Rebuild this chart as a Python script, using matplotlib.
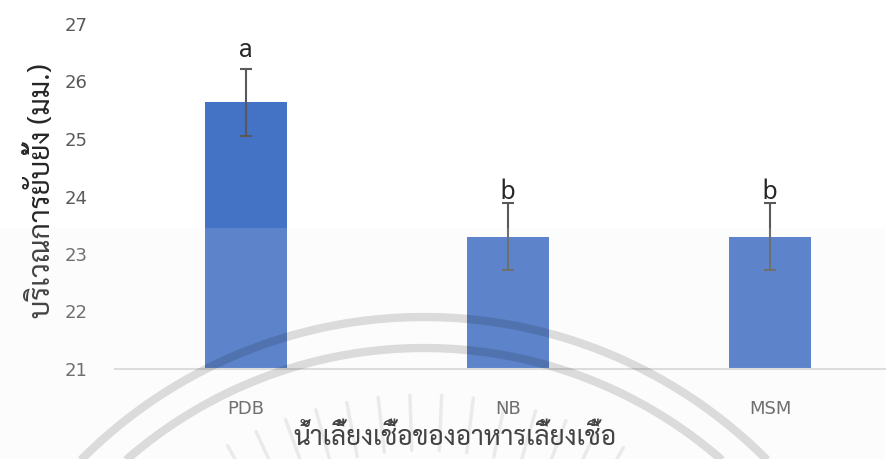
import matplotlib
matplotlib.use("Agg")
import matplotlib.pyplot as plt
from matplotlib import font_manager
import numpy as np

# ── data ──────────────────────────────────────────────────────────────────────
media = ["PDB", "NB", "MSM"]
zone_mm = [25.64, 23.30, 23.30]
zone_err = [0.58, 0.58, 0.58]
groups = ["a", "b", "b"]
group_offset_pt = [8.5, 3, 3]

y_label = "บริเวณการยับยั้ง (มม.)"
x_label = "น้ำเลี้ยงเชื้อของอาหารเลี้ยงเชื้อ"

# ── fonts ─────────────────────────────────────────────────────────────────────
installed = {f.name for f in font_manager.fontManager.ttflist}
thai = next((n for n in ["Sarabun", "Noto Sans Thai Looped", "IBM Plex Sans Thai Looped",
                         "Niramit"] if n in installed), "DejaVu Sans")
thai_fam = [thai, "DejaVu Sans"]

# ── plot ──────────────────────────────────────────────────────────────────────
W, H = 886, 459
fig = plt.figure(figsize=(W / 100, H / 100), dpi=100)
ax = fig.add_axes([115 / W, (H - 369) / H, (901 - 115) / W, (369 - 24) / H])

x = np.arange(len(media))
ax.bar(x, np.array(zone_mm) - 21, bottom=21, width=0.313, color="#4472C4", zorder=2)
ax.errorbar(x, zone_mm, yerr=zone_err, fmt="none", ecolor="#595959",
            elinewidth=1.5, capsize=4.3, capthick=1.5, zorder=3)
for xi, m, e, g, off in zip(x, zone_mm, zone_err, groups, group_offset_pt):
    ax.annotate(g, (xi, m + e), xytext=(0, off), textcoords="offset points",
                ha="center", va="baseline", fontsize=19, family=thai_fam, color="#262626")

ax.set_xlim(-0.5, 2.5)
ax.set_ylim(21, 27)
ax.set_yticks(range(21, 28))
ax.set_xticks(x)
ax.set_xticklabels(media)
ax.tick_params(length=0, labelsize=13, labelcolor="#595959")
ax.tick_params(axis="y", pad=19.5)
ax.tick_params(axis="x", pad=22)
for s in ["top", "right", "left"]:
    ax.spines[s].set_visible(False)
ax.spines["bottom"].set_color("#d9d9d9")
ax.spines["bottom"].set_linewidth(1.5)

fig.text(455 / W, 1 - 438 / H, x_label, family=thai_fam, fontsize=19,
         ha="center", va="center", color="#262626")
fig.text(42 / W, 1 - 191 / H, y_label, family=thai_fam, fontsize=20.5,
         rotation=90, ha="center", va="center", color="#262626")

# ── watermark layer (faint haze + emblem arcs) ───────────────────────────────
ov = fig.add_axes([0, 0, 1, 1], zorder=10)
ov.set_xlim(0, W)
ov.set_ylim(H, 0)
ov.axis("off")
ov.patch.set_alpha(0)
ov.add_patch(plt.Rectangle((0, 228), W, H - 228, color="#f0f0f0", alpha=0.15, lw=0))

cx, cy = 424, 800
t = np.deg2rad(np.linspace(-50, 50, 400))
for r in [483, 452]:
    ov.plot(cx + r * np.sin(t), cy - r * np.cos(t),
            color="black", alpha=0.13, lw=6, solid_capstyle="butt")
for a in np.deg2rad(np.arange(-38, 39, 4.5)):
    r0, r1 = 350, 405
    ov.plot([cx + r0 * np.sin(a), cx + r1 * np.sin(a)],
            [cy - r0 * np.cos(a), cy - r1 * np.cos(a)],
            color="black", alpha=0.07, lw=2.5, solid_capstyle="round")

fig.savefig("out.png", dpi=100)
